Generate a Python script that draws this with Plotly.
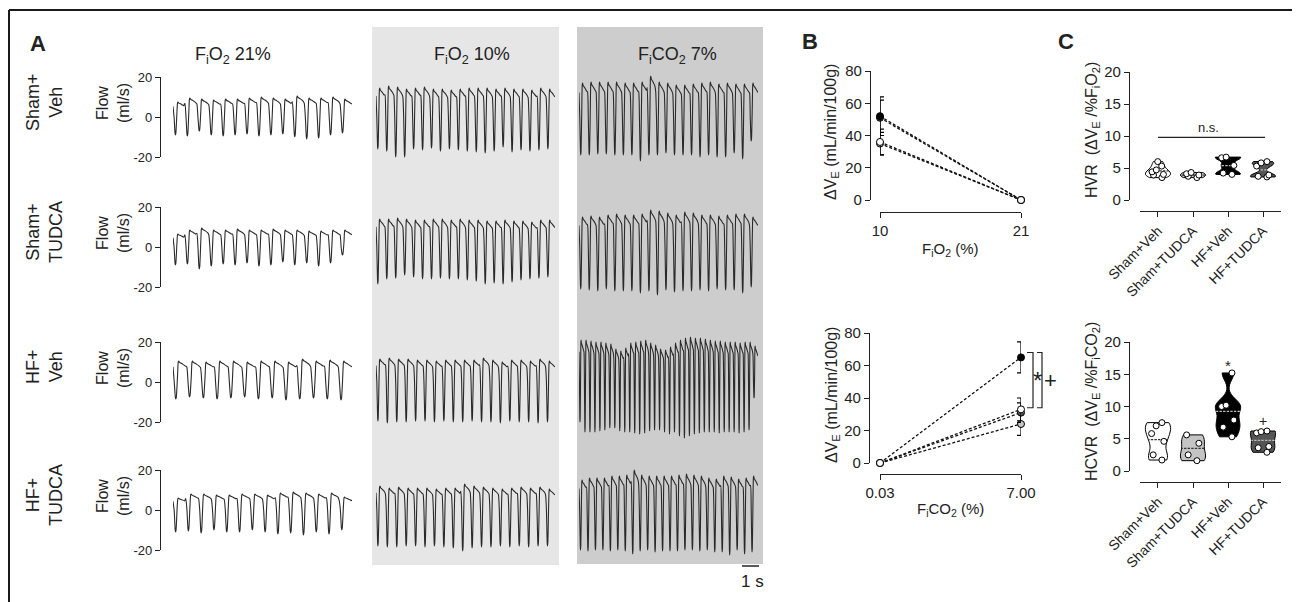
import plotly.graph_objects as go
import numpy as np

# The page body adds an 8 px margin, so the figure is 8 px smaller and all
# reference pixel positions are shifted by that offset.
OFF = 8
W, H = 1300 - OFF, 602 - OFF
FONT = "Liberation Sans, Arial, sans-serif"
INK = "#222222"


def px(x):
    return (x - OFF) / W


def py(y):
    return 1 - (y - OFF) / H


# ---------------- Panel A data: per-breath peak / trough flow (ml/s) ----------------
row_labels = ["Sham+<br>Veh", "Sham+<br>TUDCA", "HF+<br>Veh", "HF+<br>TUDCA"]
col_titles = ["F<sub>i</sub>O<sub>2</sub> 21%", "F<sub>i</sub>O<sub>2</sub> 10%",
              "F<sub>i</sub>CO<sub>2</sub> 7%"]
flow_tickvals = [-20, 0, 20]
flow_ticktext = ["-20", "0", "20"]
trace_duration_s = 10.5

sham_veh_21_peak = [7.5, 9.5, 9.0, 8.5, 9.0, 9.0, 9.5, 10.0, 9.5, 9.0, 10.5, 9.5, 9.5, 10.0, 9.0]
sham_veh_21_trough = [-9.0, -9.5, -7.0, -9.0, -9.5, -9.0, -8.5, -9.5, -9.0, -8.5, -10.0, -11.0, -10.5, -9.0, -8.0]
sham_tudca_21_peak = [6.5, 8.5, 9.5, 8.5, 8.5, 9.0, 8.5, 8.5, 9.0, 8.5, 8.5, 8.0, 8.0, 8.5, 8.5]
sham_tudca_21_trough = [-9.0, -8.5, -11.0, -9.5, -8.5, -9.0, -8.0, -9.5, -9.0, -7.5, -9.0, -8.0, -9.5, -8.0, -4.0]
hf_veh_21_peak = [10.5, 10.5, 10.0, 10.5, 10.5, 10.0, 10.5, 10.5, 10.0, 11.5, 10.5, 11.0, 10.5]
hf_veh_21_trough = [-8.5, -7.5, -8.0, -8.5, -8.0, -7.5, -8.5, -8.0, -9.0, -8.5, -8.0, -8.5, -9.0]
hf_tudca_21_peak = [6.0, 8.0, 8.0, 7.5, 7.5, 8.0, 8.0, 7.5, 8.5, 9.0, 8.5, 8.0, 8.5, 6.5]
hf_tudca_21_trough = [-11.0, -10.5, -11.5, -10.0, -11.0, -11.0, -10.0, -11.0, -12.0, -11.5, -12.5, -11.0, -12.0, -10.0]

sham_veh_10_peak = [14.5, 15.5, 15.0, 14.0, 14.5, 15.0, 14.0, 14.0, 13.5, 14.0, 14.5, 14.5, 14.5, 14.0, 14.5, 14.0, 14.0, 13.5, 14.5, 14.0]
sham_veh_10_trough = [-16.0, -17.0, -20.0, -20.0, -16.0, -16.5, -15.5, -17.0, -16.0, -16.5, -17.0, -17.5, -18.0, -17.0, -15.0, -17.5, -16.5, -17.0, -16.5, -16.0]
sham_tudca_10_peak = [14.0, 14.0, 14.5, 14.0, 13.5, 13.5, 14.0, 14.0, 13.5, 14.0, 13.5, 13.5, 13.0, 13.0, 13.5, 13.0, 13.0, 12.5, 13.5, 13.5]
sham_tudca_10_trough = [-18.5, -16.0, -15.5, -14.0, -15.0, -16.0, -16.0, -15.5, -16.0, -16.0, -16.5, -17.0, -18.5, -18.0, -18.5, -17.5, -16.5, -16.0, -15.5, -15.0]
hf_veh_10_peak = [11.5, 12.0, 11.5, 11.5, 11.0, 11.0, 10.5, 11.0, 11.0, 11.0, 11.0, 12.0, 11.0, 10.0, 11.0, 11.0, 10.5, 11.5, 10.5]
hf_veh_10_trough = [-19.5, -20.5, -20.0, -20.0, -19.5, -19.5, -20.0, -19.5, -20.0, -20.0, -19.5, -20.0, -20.0, -20.5, -19.5, -20.0, -20.0, -20.5, -20.0]
hf_tudca_10_peak = [12.0, 11.0, 11.5, 11.0, 11.0, 11.0, 10.5, 11.0, 11.0, 13.0, 12.0, 11.5, 11.0, 10.5, 11.0, 11.5, 11.0, 11.5, 10.5]
hf_tudca_10_trough = [-18.0, -18.5, -18.5, -18.0, -18.0, -18.5, -18.0, -18.5, -19.0, -20.5, -19.0, -18.5, -18.5, -18.0, -18.5, -18.0, -18.5, -18.0, -18.0]

sham_veh_co2_peak = [17.0, 17.5, 17.5, 17.5, 17.5, 17.0, 17.0, 17.5, 20.5, 17.5, 17.0, 16.0, 16.0, 16.5, 17.0, 17.5, 16.5, 17.0, 16.5, 16.5, 17.0]
sham_veh_co2_trough = [-19.0, -19.0, -18.5, -18.5, -19.0, -19.0, -19.0, -22.0, -19.0, -19.0, -18.0, -19.0, -19.0, -19.0, -20.0, -19.0, -20.0, -20.0, -18.0, -21.0, -12.0]
sham_tudca_co2_peak = [15.0, 15.5, 15.0, 16.0, 16.5, 16.0, 16.0, 16.5, 18.5, 18.0, 17.0, 16.0, 17.5, 17.0, 16.0, 16.0, 15.5, 16.0, 16.5, 16.5, 15.0]
sham_tudca_co2_trough = [-21.0, -21.5, -22.0, -21.0, -22.0, -22.0, -22.0, -23.0, -22.0, -24.0, -21.5, -22.5, -22.0, -22.0, -21.5, -22.0, -21.0, -21.5, -21.5, -23.0, -20.0]
hf_veh_co2_peak = [21, 21, 20.5, 20, 20, 19.5, 19, 16.5, 15.5, 17, 19.5, 20, 20.5, 21, 19.5, 18.5, 16.5, 16, 17.5, 19.5,
                   21, 22, 22.5, 22, 22, 21.5, 21, 20.5, 20.5, 20, 20, 20, 19.5, 20, 20, 18]
hf_veh_co2_trough = [-20, -25, -25, -25, -24.5, -24, -23, -23, -24.5, -25, -25, -25.5, -26, -25.5, -24.5, -24, -24, -25, -26, -25,
                     -27, -28, -27, -26, -25.5, -25, -25, -25, -25.5, -25, -25, -25, -25.5, -25, -24, -8]
hf_tudca_co2_peak = [15, 16, 16, 16, 17, 17, 17.5, 20, 17.5, 17, 17, 17, 17, 17.5, 18, 17.5, 17, 16, 15.5, 17, 16.5, 15.5, 16, 17]
hf_tudca_co2_trough = [-20, -20.5, -20, -20, -20.5, -20, -20.5, -22, -20.5, -20, -21, -20.5, -20.5, -20.5, -20, -20, -20.5, -20,
                       -21, -21, -22.5, -20, -22, -21]

flow_peaks = [
    [sham_veh_21_peak, sham_veh_10_peak, sham_veh_co2_peak],
    [sham_tudca_21_peak, sham_tudca_10_peak, sham_tudca_co2_peak],
    [hf_veh_21_peak, hf_veh_10_peak, hf_veh_co2_peak],
    [hf_tudca_21_peak, hf_tudca_10_peak, hf_tudca_co2_peak],
]
flow_troughs = [
    [sham_veh_21_trough, sham_veh_10_trough, sham_veh_co2_trough],
    [sham_tudca_21_trough, sham_tudca_10_trough, sham_tudca_co2_trough],
    [hf_veh_21_trough, hf_veh_10_trough, hf_veh_co2_trough],
    [hf_tudca_21_trough, hf_tudca_10_trough, hf_tudca_co2_trough],
]

# ---------------- Panel B data: delta VE (mL/min/100g), mean and SEM ----------------
groups = ["Sham+Veh", "Sham+TUDCA", "HF+Veh", "HF+TUDCA"]
fio2_x = [10, 21]
fio2_ticktext = ["10", "21"]
hvr_mean = {"Sham+Veh": [36, 0], "Sham+TUDCA": [35, 0], "HF+Veh": [52, 0], "HF+TUDCA": [51, 0]}
hvr_sem = {"Sham+Veh": [8, 0], "Sham+TUDCA": [7, 0], "HF+Veh": [12, 0], "HF+TUDCA": [11, 0]}
fico2_x = [0.03, 7.00]
fico2_ticktext = ["0.03", "7.00"]
hcvr_mean = {"Sham+Veh": [0, 33], "Sham+TUDCA": [0, 24], "HF+Veh": [0, 65], "HF+TUDCA": [0, 31]}
hcvr_sem = {"Sham+Veh": [0, 7], "Sham+TUDCA": [0, 7], "HF+Veh": [0, 9.5], "HF+TUDCA": [0, 6]}
bracket_span = [34, 68]

# ---------------- Panel C data: individual responses ----------------
hvr_points = {
    "Sham+Veh": [6.0, 5.3, 4.7, 4.4, 4.0, 3.9, 3.5],
    "Sham+TUDCA": [4.3, 4.1, 3.9, 3.7, 3.5],
    "HF+Veh": [6.7, 6.6, 5.4, 4.2, 4.0],
    "HF+TUDCA": [6.0, 5.8, 5.3, 3.9, 3.7, 3.6],
}
hcvr_points = {
    "Sham+Veh": [7.5, 7.0, 5.8, 4.6, 2.5, 1.7],
    "Sham+TUDCA": [5.6, 4.3, 2.5, 1.6],
    "HF+Veh": [15.2, 10.2, 10.0, 7.9, 6.8, 5.3],
    "HF+TUDCA": [6.2, 6.1, 5.9, 3.8, 3.6, 2.9],
}
c_ticks = [0, 5, 10, 15, 20]

# ---------------- styles ----------------
group_fill = {"Sham+Veh": "white", "Sham+TUDCA": "#c4c4c4", "HF+Veh": "black", "HF+TUDCA": "#555555"}
group_midline = {"Sham+Veh": "#333333", "Sham+TUDCA": "#333333", "HF+Veh": "#bbbbbb", "HF+TUDCA": "#bbbbbb"}

col_px = [(173, 352), (376, 555), (579, 758)]
row_px = [(77, 157), (207, 287), (342, 422), (470, 550)]

# breath template (phase within a breath, which extreme, factor)
TEMPLATE = [(0.00, "p", 0.72), (0.09, "p", 0.0), (0.17, "t", 0.9), (0.20, "t", 1.0), (0.24, "t", 0.9),
            (0.33, "p", 0.3), (0.38, "p", 0.95), (0.42, "p", 1.0), (0.48, "p", 0.93), (0.70, "p", 0.85),
            (0.90, "p", 0.76)]


def breath_wave(peaks, troughs, duration):
    n = len(peaks)
    T = duration / n
    xs, ys = [], []
    for k in range(n):
        for ph, kind, f in TEMPLATE:
            xs.append((k + ph) * T)
            ys.append(f * (peaks[k] if kind == "p" else troughs[k]))
    xs.append(duration)
    ys.append(0.72 * peaks[-1])
    return xs, ys


fig = go.Figure()
layout = dict(width=W, height=H, autosize=False,
              margin=dict(l=0, r=0, t=0, b=0, pad=0, autoexpand=False), paper_bgcolor="white",
              plot_bgcolor="rgba(0,0,0,0)", showlegend=False, violinmode="overlay",
              font=dict(family=FONT, color=INK))

axis_style = dict(showline=True, linecolor=INK, linewidth=1.3, ticks="outside", ticklen=5, tickwidth=1.3,
                  tickcolor=INK, showgrid=False, zeroline=False, fixedrange=True, automargin=False)

# Panel A axes
for c, (a, b) in enumerate(col_px):
    layout["xaxis" + ("" if c == 0 else str(c + 1))] = dict(domain=[px(a), px(b)], range=[0, trace_duration_s],
                                                            visible=False, anchor="y5", automargin=False)
for r, (top, bot) in enumerate(row_px):
    layout["yaxis" + ("" if r == 0 else str(r + 1))] = dict(
        axis_style, domain=[py(bot), py(top)], range=[-20, 20], anchor="free", position=px(160),
        tickvals=flow_tickvals, ticktext=flow_ticktext, tickfont=dict(size=13, family=FONT, color=INK))
    layout["yaxis" + str(r + 5)] = dict(domain=[py(bot + 40), py(top - 40)], range=[-40, 40], visible=False,
                                        anchor="x", automargin=False)
    fig.add_trace(go.Scatter(x=[], y=[], xaxis="x", yaxis="y" + ("" if r == 0 else str(r + 1))))

for r in range(4):
    for c in range(3):
        xs, ys = breath_wave(flow_peaks[r][c], flow_troughs[r][c], trace_duration_s)
        fig.add_trace(go.Scatter(x=xs, y=ys, mode="lines",
                                 line=dict(color="#2a2a2a", width=1.1, shape="spline", smoothing=0.5),
                                 xaxis="x" + ("" if c == 0 else str(c + 1)), yaxis="y" + str(r + 5),
                                 hoverinfo="skip"))

# Panel B axes
layout["xaxis4"] = dict(axis_style, domain=[px(880), px(1021)], range=[10, 21], anchor="free", position=py(212),
                        tickvals=fio2_x, ticktext=fio2_ticktext, tickfont=dict(size=15, family=FONT, color=INK))
layout["yaxis9"] = dict(axis_style, domain=[py(200), py(71)], range=[0, 80], anchor="free", position=px(870),
                        tickvals=[0, 20, 40, 60, 80], tickfont=dict(size=15, family=FONT, color=INK))
layout["xaxis5"] = dict(axis_style, domain=[px(880), px(1021)], range=[0.03, 7.0], anchor="free", position=py(474),
                        tickvals=fico2_x, ticktext=fico2_ticktext, tickfont=dict(size=15, family=FONT, color=INK))
layout["yaxis10"] = dict(axis_style, domain=[py(463), py(333)], range=[0, 80], anchor="free", position=px(869),
                         tickvals=[0, 20, 40, 60, 80], tickfont=dict(size=15, family=FONT, color=INK))

b_order = ["Sham+TUDCA", "HF+TUDCA", "HF+Veh", "Sham+Veh"]
for g in b_order:
    for xs, means, sems, xa, ya in [(fio2_x, hvr_mean, hvr_sem, "x4", "y9"),
                                    (fico2_x, hcvr_mean, hcvr_sem, "x5", "y10")]:
        fig.add_trace(go.Scatter(
            x=xs, y=means[g], mode="lines+markers", xaxis=xa, yaxis=ya, cliponaxis=False,
            line=dict(color="#111111", width=1.3, dash="3px,2px"),
            marker=dict(size=7, color=group_fill[g], line=dict(color="black", width=1)),
            error_y=dict(type="data", array=sems[g], color="black", thickness=1.2, width=4),
            hoverinfo="skip"))

# Panel C axes
for xa, ya, ypos, dom in [("xaxis6", "yaxis11", 211, (200, 72)), ("xaxis7", "yaxis12", 482, (471, 342))]:
    layout[xa] = dict(axis_style, domain=[px(1140), px(1281)], type="category", categoryorder="array",
                      categoryarray=groups, range=[-0.514, 3.514], anchor="free", position=py(ypos),
                      tickangle=-45, tickfont=dict(size=14, family=FONT, color=INK))
    layout[ya] = dict(axis_style, domain=[py(dom[0]), py(dom[1])], range=[0, 20], anchor="free",
                      position=px(1129), tickvals=c_ticks, tickfont=dict(size=15, family=FONT, color=INK))

for pts, xa, ya, bw in [(hvr_points, "x6", "y11", 0.45), (hcvr_points, "x7", "y12", 1.1)]:
    for g in groups:
        vals = pts[g]
        fig.add_trace(go.Violin(
            x=[g] * len(vals), y=vals, xaxis=xa, yaxis=ya, fillcolor=group_fill[g],
            line=dict(color="black", width=1), points="all", pointpos=0, jitter=0.6,
            marker=dict(color="white", size=6, line=dict(color="black", width=1)),
            spanmode="hard", bandwidth=bw, width=0.72, scalemode="width",
            meanline=dict(visible=True, color=group_midline[g], width=1.2),
            hoverinfo="skip", name=g))

# ---------------- annotations ----------------
ann = []


def text(x, y, s, size, angle=0, bold=False, xanchor="center", yanchor="middle", xref="paper", yref="paper"):
    ann.append(dict(x=x if xref != "paper" else px(x), y=y if yref != "paper" else py(y), xref=xref, yref=yref,
                    text=("<b>%s</b>" % s) if bold else s, showarrow=False, textangle=angle,
                    font=dict(size=size, family=FONT, color=INK), xanchor=xanchor, yanchor=yanchor))


text(38, 43, "A", 22, bold=True)
text(810, 41, "B", 22, bold=True)
text(1066, 42, "C", 22, bold=True)
for (a, b), t, cx in zip(col_px, col_titles, [233, 472, 677]):
    text(cx, 55, t, 18)
for (top, bot), lab in zip(row_px, row_labels):
    zero = (top + bot) / 2
    text(44, zero - 15, lab, 18, angle=-90)
    text(113, zero - 14, "Flow<br>(ml/s)", 16, angle=-90)
text(752, 581, "1 s", 17)

yl = "ΔV<sub>E</sub> (mL/min/100g)"
text(832, 132, yl, 16, angle=-90)
text(832, 395, yl, 16, angle=-90)
text(950, 249, "F<sub>i</sub>O<sub>2</sub> (%)", 15)
text(950, 509, "F<sub>i</sub>CO<sub>2</sub> (%)", 15)
text(1037, 51, "*", 24, xref="paper", yref="y10")
text(1050, 51, "+", 22, xref="paper", yref="y10")

text(1092, 130, "HVR\u00a0\u00a0(ΔV<sub>E</sub>\u00a0/%F<sub>i</sub>O<sub>2</sub>)", 16, angle=-90)
text(1092, 402, "HCVR\u00a0\u00a0(ΔV<sub>E</sub>\u00a0/%F<sub>i</sub>CO<sub>2</sub>)", 16, angle=-90)
text(1208, 127, "n.s.", 13)
text("HF+Veh", 16.4, "*", 15, xref="x7", yref="y12")
text("HF+TUDCA", 7.7, "+", 14, xref="x7", yref="y12")

layout["annotations"] = ann

# ---------------- shapes ----------------
shapes = []
shapes.append(dict(type="rect", xref="paper", yref="paper", x0=px(372), x1=px(559), y0=py(565), y1=py(27),
                   fillcolor="#e6e6e6", line=dict(width=0), layer="below"))
shapes.append(dict(type="rect", xref="paper", yref="paper", x0=px(577), x1=px(763), y0=py(564), y1=py(27),
                   fillcolor="#cdcdcd", line=dict(width=0), layer="below"))
frame = dict(color="#1a1a1a", width=2)
shapes.append(dict(type="line", xref="paper", yref="paper", x0=px(9), x1=px(1295), y0=py(10), y1=py(10), line=frame))
shapes.append(dict(type="line", xref="paper", yref="paper", x0=px(9), x1=px(9), y0=py(10), y1=py(610), line=frame))
shapes.append(dict(type="line", xref="paper", yref="paper", x0=px(1295), x1=px(1295), y0=py(10), y1=py(610),
                   line=frame))
# scale bar 1 s
shapes.append(dict(type="line", xref="paper", yref="paper", x0=px(742), x1=px(759), y0=py(566), y1=py(566),
                   line=dict(color=INK, width=1.5)))
# n.s. line
shapes.append(dict(type="line", xref="paper", yref="y11", x0=px(1158), x1=px(1265), y0=9.8, y1=9.8,
                   line=dict(color=INK, width=1.2)))
# brackets panel B bottom
for xv, xt in [(1033, 1027), (1042, 1037)]:
    shapes.append(dict(type="path", xref="paper", yref="y10",
                       path="M %f,%f L %f,%f L %f,%f L %f,%f" % (px(xt), bracket_span[1], px(xv), bracket_span[1],
                                                                  px(xv), bracket_span[0], px(xt), bracket_span[0]),
                       line=dict(color=INK, width=1.2)))
layout["shapes"] = shapes

fig.update_layout(**layout)
fig.write_html("out.html")
